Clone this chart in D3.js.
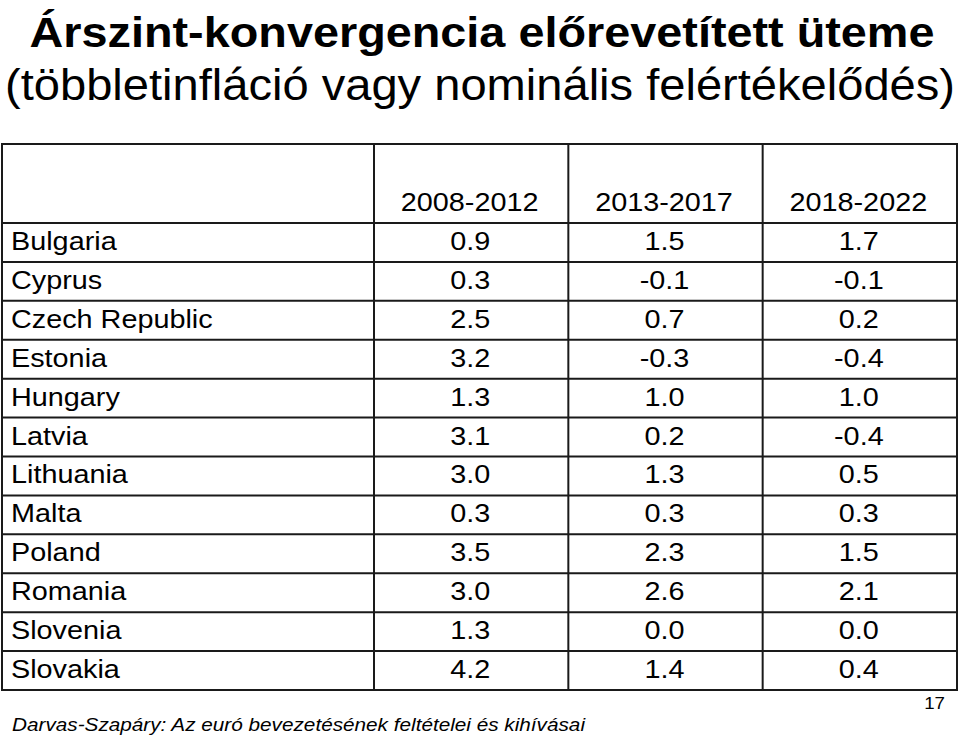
<!DOCTYPE html>
<html>
<head>
<meta charset="utf-8">
<script src="https://cdn.jsdelivr.net/npm/d3@7/dist/d3.min.js"></script>
<style>
  html, body { margin: 0; padding: 0; background: #fff; }
  svg { display: block; }
</style>
</head>
<body>
<script>
// ---- Data ----
const titleLine1 = "Árszint-konvergencia előrevetített üteme";
const titleLine2 = "(többletinfláció vagy nominális felértékelődés)";
const footerText = "Darvas-Szapáry: Az euró bevezetésének feltételei és kihívásai";
const pageNumber = "17";

const periods = ["2008-2012", "2013-2017", "2018-2022"];
const countries = ["Bulgaria", "Cyprus", "Czech Republic", "Estonia", "Hungary", "Latvia",
                   "Lithuania", "Malta", "Poland", "Romania", "Slovenia", "Slovakia"];
const values2008_2012 = [0.9, 0.3, 2.5, 3.2, 1.3, 3.1, 3.0, 0.3, 3.5, 3.0, 1.3, 4.2];
const values2013_2017 = [1.5, -0.1, 0.7, -0.3, 1.0, 0.2, 1.3, 0.3, 2.3, 2.6, 0.0, 1.4];
const values2018_2022 = [1.7, -0.1, 0.2, -0.4, 1.0, -0.4, 0.5, 0.3, 1.5, 2.1, 0.0, 0.4];

const seriesValues = [values2008_2012, values2013_2017, values2018_2022];

// ---- Layout ----
const W = 960, H = 739;
const tableLeft = 2, tableRight = 957, tableTop = 144, headerBottom = 223, tableBottom = 690;
const labelColRight = 374;
const font = "'Liberation Sans', Arial, Helvetica, sans-serif";
const bodySize = 25.5, stretch = 1.13;
const lineColor = "#1a1a1a";

const svg = d3.select("body").append("svg")
  .attr("width", W).attr("height", H);

// Scales
const y = d3.scaleBand().domain(countries).range([headerBottom, tableBottom]).padding(0);
const x = d3.scaleBand().domain(periods).range([labelColRight, tableRight]).padding(0);

// helper: stretched text
function stretchedText(g, tx, ty, str, opts = {}) {
  const t = g.append("text")
    .attr("transform", `translate(${tx},${ty}) scale(${opts.sx || stretch},1)`)
    .attr("font-family", font)
    .attr("font-size", opts.size || bodySize)
    .attr("fill", "#000")
    .attr("text-anchor", opts.anchor || "start")
    .text(str);
  if (opts.italic) t.attr("font-style", "italic");
  if (opts.bold) t.attr("font-weight", "bold");
  return t;
}

// Title
svg.append("text")
  .attr("x", 482).attr("y", 47)
  .attr("text-anchor", "middle")
  .attr("font-family", font).attr("font-weight", "bold").attr("font-size", 43)
  .attr("textLength", 905).attr("lengthAdjust", "spacingAndGlyphs")
  .text(titleLine1);
svg.append("text")
  .attr("x", 480).attr("y", 100)
  .attr("text-anchor", "middle")
  .attr("font-family", font).attr("font-size", 44)
  .attr("textLength", 950).attr("lengthAdjust", "spacingAndGlyphs")
  .text(titleLine2);

// Table lines
const grid = svg.append("g").attr("stroke", lineColor).attr("stroke-width", 2).attr("fill", "none");
grid.append("rect")
  .attr("x", tableLeft).attr("y", tableTop)
  .attr("width", tableRight - tableLeft).attr("height", tableBottom - tableTop);
// vertical lines
grid.selectAll("line.v").data(periods).enter().append("line")
  .attr("x1", d => x(d)).attr("x2", d => x(d))
  .attr("y1", tableTop).attr("y2", tableBottom);
// horizontal lines (header bottom and each row boundary)
grid.selectAll("line.h").data(countries).enter().append("line")
  .attr("x1", tableLeft).attr("x2", tableRight)
  .attr("y1", d => y(d)).attr("y2", d => y(d));

// Header
const textG = svg.append("g");
periods.forEach(p => {
  stretchedText(textG, x(p) + x.bandwidth() / 2 - 1.5, 211, p, { anchor: "middle" });
});

// Rows
countries.forEach((c, i) => {
  const base = y(c) + y.bandwidth() / 2 + 7.5;
  stretchedText(textG, 11, base, c);
  periods.forEach((p, j) => {
    stretchedText(textG, x(p) + x.bandwidth() / 2 - 1, base, seriesValues[j][i].toFixed(1), { anchor: "middle" });
  });
});

// Page number
stretchedText(svg, 945, 709, pageNumber, { anchor: "end", size: 17, sx: 1.1 });

// Footer
svg.append("text")
  .attr("x", 12).attr("y", 731)
  .attr("font-family", font).attr("font-style", "italic").attr("font-size", 19)
  .attr("textLength", 573).attr("lengthAdjust", "spacingAndGlyphs")
  .text(footerText);
</script>
</body>
</html>
